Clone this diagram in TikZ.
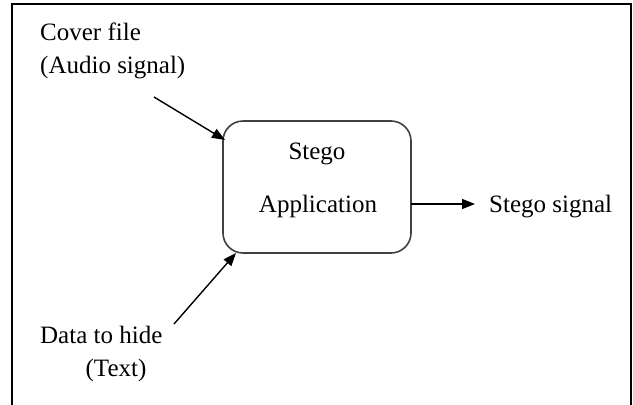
\documentclass[tikz,border=0pt]{standalone}
\usepackage{fontspec}
\setmainfont{Liberation Serif}
\usetikzlibrary{arrows.meta}
\begin{document}
\begin{tikzpicture}[x=1pt,y=-1pt,
  lbl/.style={inner sep=0pt,font=\fontsize{25}{30}\selectfont},
  conn/.style={line width=1.4pt,-{Triangle[length=13pt,width=10pt]}},
  appbox/.style={draw=black!75,line width=1.6pt,rounded corners=20pt}]
\useasboundingbox (0,0) rectangle (633,405);
\draw[line width=1.8pt] (12,420) -- (12,4) -- (631,4) -- (631,420);
\draw[appbox] (223,121) rectangle (411,253);
\coordinate (boxE) at (411,204);
\node[lbl,anchor=base] (stego) at (317,159) {Stego};
\node[lbl,anchor=base] (app) at (318,212) {Application};
\node[lbl,anchor=base west] (cover) at (40,40) {Cover file};
\node[lbl,anchor=base west] (audio) at (40,73) {(Audio signal)};
\node[lbl,anchor=base west] (data) at (40,343) {Data to hide};
\node[lbl,anchor=base] (text) at (116,376) {(Text)};
\node[lbl,anchor=base west] (out) at (489,212) {Stego signal};
\coordinate (a1s) at (154,97);
\coordinate (a1e) at (225,140);
\coordinate (a2s) at (174,324);
\coordinate (a2e) at (236,253);
\coordinate (a3e) at (475,204);
\draw[conn] (a1s) -- (a1e);
\draw[conn] (a2s) -- (a2e);
\draw[conn] (boxE) -- (a3e);
\end{tikzpicture}
\end{document}
